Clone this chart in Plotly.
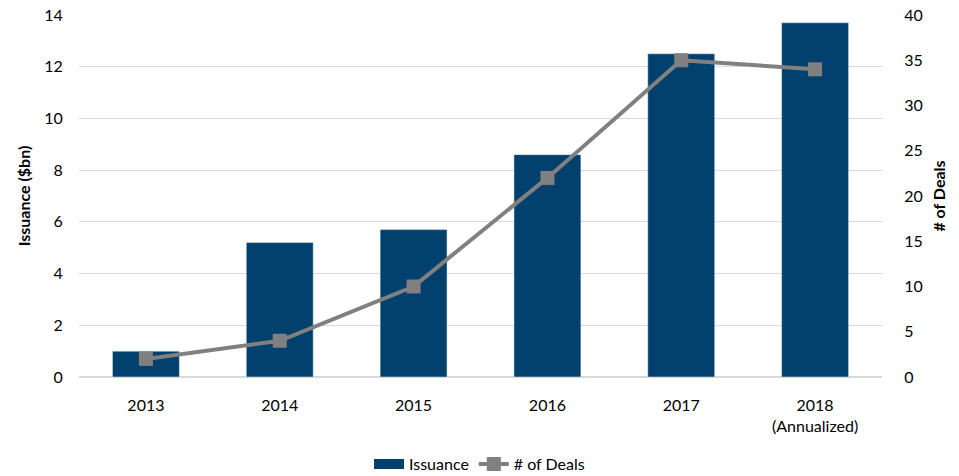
import plotly.graph_objects as go

years = ["2013", "2014", "2015", "2016", "2017", "2018<br>(Annualized)"]
issuance_bn = [1.0, 5.2, 5.7, 8.6, 12.5, 13.7]
num_deals = [2, 4, 10, 22, 35, 34]

navy = "#02416D"
grey = "#808080"
font_family = "Lato, 'Open Sans', sans-serif"

fig = go.Figure()
fig.add_trace(go.Bar(
    x=years, y=issuance_bn, name="Issuance",
    marker=dict(color=navy), width=0.5, showlegend=False,
    legendgroup="issuance",
))
# wide swatch for the issuance legend entry
fig.add_trace(go.Scatter(
    x=[None], y=[None], name="Issuance", mode="lines",
    line=dict(color=navy, width=14), legendgroup="issuance",
))
fig.add_trace(go.Scatter(
    x=years, y=num_deals, name="# of Deals", yaxis="y2",
    mode="lines+markers",
    line=dict(color=grey, width=4),
    marker=dict(symbol="square", size=14, color=grey),
))

fig.update_layout(
    width=959, height=476,
    margin=dict(l=79, r=77, t=15, b=99),
    plot_bgcolor="white", paper_bgcolor="white",
    font=dict(family=font_family, size=16, color="#000000"),
    bargap=0.5,
    showlegend=True,
    legend=dict(orientation="h", x=0.5, xanchor="center", xref="container",
                y=0.025, yanchor="middle", yref="container",
                font=dict(size=16), traceorder="normal", itemwidth=30,
                tracegroupgap=0),
    xaxis=dict(showgrid=False, showline=False, ticks="outside", ticklen=14,
               tickcolor="rgba(0,0,0,0)", tickfont=dict(size=16),
               automargin=False),
    yaxis=dict(
        range=[0, 14], dtick=2, showgrid=True, gridcolor="#D9D9D9", gridwidth=1,
        zeroline=True, zerolinecolor="#D9D9D9", showline=False,
        ticks="outside", ticklen=12, tickcolor="rgba(0,0,0,0)",
        title=dict(text="<b>Issuance ($bn)</b>", font=dict(size=16), standoff=9),
        tickfont=dict(size=16), automargin=False,
    ),
    yaxis2=dict(
        range=[0, 40], dtick=5, overlaying="y", side="right", showgrid=False,
        zeroline=False, showline=False,
        ticks="outside", ticklen=18, tickcolor="rgba(0,0,0,0)",
        title=dict(text="<b># of Deals</b>", font=dict(size=16), standoff=12),
        tickfont=dict(size=16), automargin=False,
    ),
)

fig.write_html("out.html")
